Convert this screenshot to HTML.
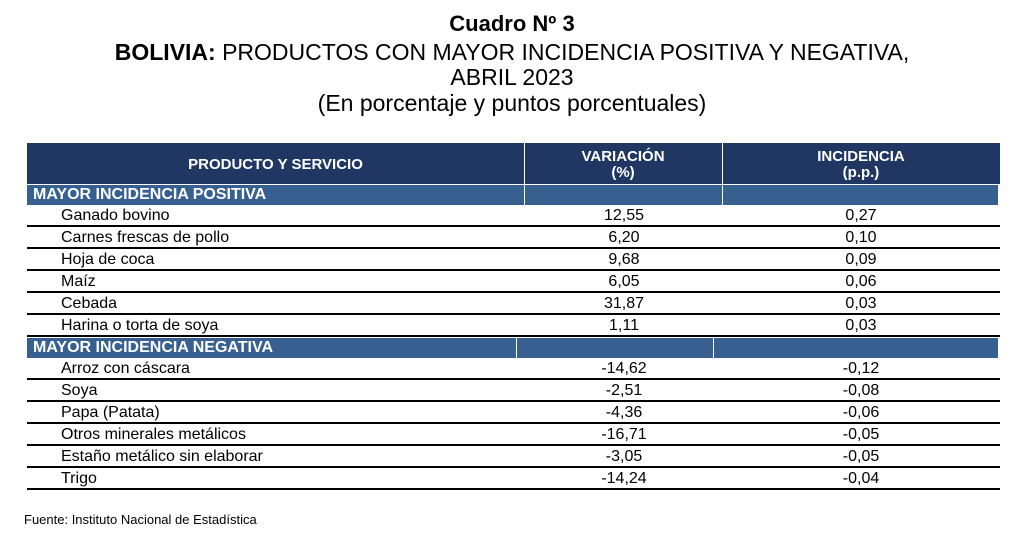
<!DOCTYPE html>
<html><head><meta charset="utf-8"><style>
body{margin:0;width:1024px;height:543px;background:#fff;font-family:"Liberation Sans",Arial,sans-serif;position:relative;overflow:hidden;color:#000}
.t{position:absolute;left:0;width:1024px;text-align:center;font-size:23px;line-height:26px}
.hdr{position:absolute;top:143px;height:41px;left:27px;width:973px;background:#1f3762}
.hc{position:absolute;top:144px;height:41px;color:#fff;font-weight:bold;font-size:15px;text-align:center;display:flex;align-items:center;justify-content:center;line-height:16px}
.sec{position:absolute;left:27px;width:971px;height:20px;background:#376091}
.sec span{position:absolute;left:6px;top:1px;color:#fff;font-weight:bold;font-size:16px}
.dv{position:absolute;width:1px;background:#fff}
.row{position:absolute;left:27px;width:973px;height:22px;border-bottom:2px solid #000;box-sizing:border-box;font-size:16px}
.row .n{position:absolute;left:34px;top:2px}
.row .v{position:absolute;left:497px;width:200px;text-align:center;top:2px}
.row .i{position:absolute;left:695px;width:278px;text-align:center;top:2px}
</style></head><body>
<div class="t" style="top:11px;font-weight:bold;font-size:22px">Cuadro Nº 3</div>
<div class="t" style="top:39px"><b>BOLIVIA:</b> PRODUCTOS CON MAYOR INCIDENCIA POSITIVA Y NEGATIVA,</div>
<div class="t" style="top:64px">ABRIL 2023</div>
<div class="t" style="top:90px">(En porcentaje y puntos porcentuales)</div>
<div class="hdr"></div>
<div class="dv" style="left:524px;top:143px;height:41px"></div>
<div class="dv" style="left:722px;top:143px;height:41px"></div>
<div class="hc" style="left:27px;width:497px">PRODUCTO Y SERVICIO</div>
<div class="hc" style="left:524px;width:198px">VARIACIÓN<br>(%)</div>
<div class="hc" style="left:722px;width:278px">INCIDENCIA<br>(p.p.)</div>
<div id="body"></div>
<div style="position:absolute;left:24px;top:512px;font-size:13px">Fuente: Instituto Nacional de Estadística</div>
<script>
const posNames=["Ganado bovino","Carnes frescas de pollo","Hoja de coca","Maíz","Cebada","Harina o torta de soya"];
const posVar=["12,55","6,20","9,68","6,05","31,87","1,11"];
const posInc=["0,27","0,10","0,09","0,06","0,03","0,03"];
const negNames=["Arroz con cáscara","Soya","Papa (Patata)","Otros minerales metálicos","Estaño metálico sin elaborar","Trigo"];
const negVar=["-14,62","-2,51","-4,36","-16,71","-3,05","-14,24"];
const negInc=["-0,12","-0,08","-0,06","-0,05","-0,05","-0,04"];
const b=document.getElementById('body');
function sec(y,txt,d1,d2,name){
 const s=document.createElement('div');s.className='sec';s.style.top=y+'px';
 
 
 s.innerHTML='<span>'+txt+'</span>';b.appendChild(s);
 [d1,d2].forEach(x=>{const d=document.createElement('div');d.className='dv';d.style.left=x+'px';d.style.top=y+'px';d.style.height='20px';b.appendChild(d);});
}
function rows(y,n,v,i){
 n.forEach((nm,k)=>{const r=document.createElement('div');r.className='row';r.style.top=(y+k*22)+'px';
 
 
 r.innerHTML='<span class="n">'+nm+'</span><span class="v">'+v[k]+'</span><span class="i">'+i[k]+'</span>';b.appendChild(r);});
}
sec(185,'MAYOR INCIDENCIA POSITIVA',524,722,'section-positive');
rows(205,posNames,posVar,posInc);
sec(338,'MAYOR INCIDENCIA NEGATIVA',516,713,'section-negative');
rows(358,negNames,negVar,negInc);
</script>
</body></html>
